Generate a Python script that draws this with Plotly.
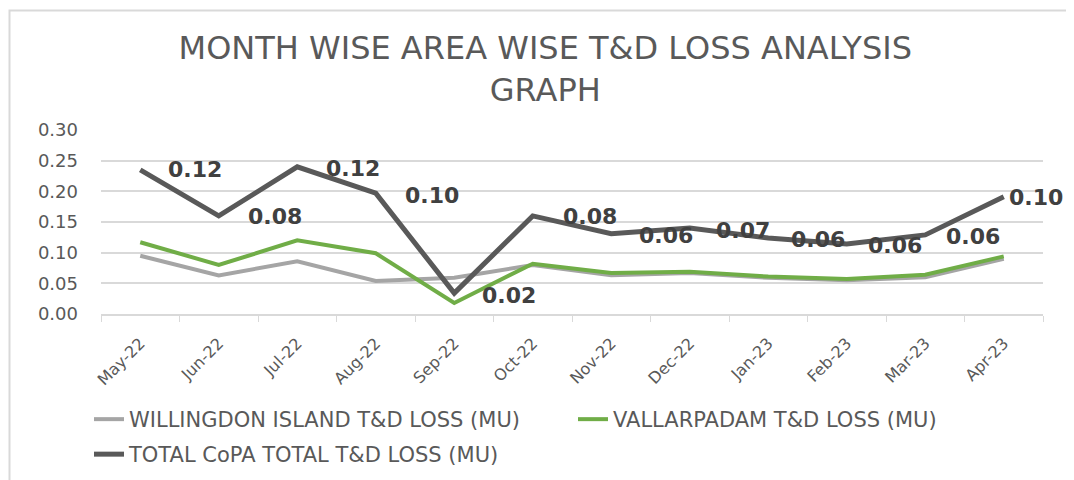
import plotly.graph_objects as go

months = ["May-22", "Jun-22", "Jul-22", "Aug-22", "Sep-22", "Oct-22",
          "Nov-22", "Dec-22", "Jan-23", "Feb-23", "Mar-23", "Apr-23"]
willingdon = [0.095, 0.063, 0.086, 0.054, 0.059, 0.080, 0.063, 0.067, 0.059, 0.055, 0.060, 0.090]
vallarpadam = [0.117, 0.080, 0.120, 0.099, 0.018, 0.082, 0.067, 0.069, 0.061, 0.057, 0.064, 0.094]
total = [0.235, 0.160, 0.240, 0.197, 0.034, 0.160, 0.131, 0.140, 0.124, 0.114, 0.129, 0.191]
labels = ["0.12", "0.08", "0.12", "0.10", "0.02", "0.08", "0.06", "0.07", "0.06", "0.06", "0.06", "0.10"]
label_dy = [0, -1, -2, -2, -2, -1, -2, -2, -2, -1, -2, -1]
label_dx = [55, 56, 56, 56, 55, 57, 55, 53, 50, 48, 48, 32]

FONT = "DejaVu Sans, Verdana, sans-serif"
TXT = "#595959"

fig = go.Figure()
fig.add_trace(go.Scatter(x=months, y=willingdon, mode="lines",
                         name="WILLINGDON ISLAND T&D LOSS (MU)",
                         line=dict(color="#A5A5A5", width=4), legend="legend"))
fig.add_trace(go.Scatter(x=months, y=vallarpadam, mode="lines",
                         name="VALLARPADAM T&D LOSS (MU)",
                         line=dict(color="#70AD47", width=4), legend="legend"))
fig.add_trace(go.Scatter(x=months, y=total, mode="lines",
                         name="TOTAL CoPA TOTAL T&D LOSS (MU)",
                         line=dict(color="#595959", width=5), legend="legend2"))

for m, t, lab, dx, dy in zip(months, total, labels, label_dx, label_dy):
    fig.add_annotation(x=m, y=t, text=lab, showarrow=False, xref="x", yref="y",
                       xshift=dx, yshift=dy,
                       font=dict(family=FONT, size=22, color="#404040", weight="bold"))

PW, PH, L, B = 942, 184, 93, 166
leg_common = dict(orientation="h", x=(81 - L) / PW, xanchor="left", yanchor="top",
                  font=dict(family=FONT, size=21, color=TXT),
                  entrywidth=439, entrywidthmode="pixels",
                  itemwidth=30, tracegroupgap=0, bgcolor="rgba(0,0,0,0)")
fig.update_layout(
    width=1066, height=472,
    margin=dict(l=L, r=1066 - L - PW, t=472 - B - PH, b=B, autoexpand=False),
    paper_bgcolor="white", plot_bgcolor="white",
    title=dict(text="MONTH WISE AREA WISE T&D LOSS ANALYSIS<br>GRAPH",
               x=0.504, xanchor="center", y=1 - 51 / 472, yanchor="middle",
               font=dict(family=FONT, size=32, color=TXT)),
    showlegend=True,
    legend=dict(y=(306 - 391) / PH, **leg_common),
    legend2=dict(y=(306 - 426) / PH, **leg_common),
    xaxis=dict(type="category", tickangle=-45, showgrid=False,
               showline=True, linecolor="#d9d9d9", linewidth=1.5,
               ticks="outside", tickson="boundaries", ticklen=6, tickcolor="#d9d9d9",
               ticklabelstandoff=12, automargin=False,
               tickfont=dict(family=FONT, size=16, color=TXT), range=[-0.5, 11.5]),
    yaxis=dict(range=[0, 0.30], dtick=0.05, tickformat=".2f",
               showgrid=True, gridcolor="#d9d9d9", gridwidth=1.5,
               zeroline=False, showline=False, automargin=False,
               tickfont=dict(family=FONT, size=18, color=TXT), ticks="", ticklabelstandoff=22),
    shapes=[dict(type="rect", xref="paper", yref="paper",
                 x0=(1.5 - L) / PW, x1=(1080 - L) / PW,
                 y0=-1.0, y1=(306 - 2.5) / PH,
                 line=dict(color="#d9d9d9", width=2), fillcolor="rgba(0,0,0,0)", layer="below")],
)

fig.write_html("out.html")
